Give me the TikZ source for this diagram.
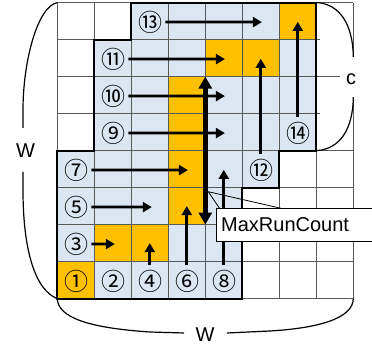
\documentclass[tikz,border=0pt]{standalone}
\usepackage{fontspec}
\setmainfont{Liberation Sans}
\newfontfamily\cjk{Noto Sans CJK JP}
\usetikzlibrary{arrows.meta}
\definecolor{lblue}{HTML}{DCE6F2}
\definecolor{orng}{HTML}{FFC000}
\definecolor{gridc}{HTML}{595959}
\begin{document}
\begin{tikzpicture}[x=1pt,y=-1pt,
  gridline/.style={gridc, line width=0.8pt},
  outline/.style={black, line width=2pt},
  brace/.style={black, line width=1.2pt},
  num/.style={font=\cjk\fontsize{24}{26}\selectfont, inner sep=0pt, xshift=1pt, yshift=-1pt},
  lbl/.style={font=\fontsize{20}{24}\selectfont, inner sep=0pt},
  harr/.style={line width=2.7pt, -{Triangle[length=9pt,width=10pt]}},
  darr/.style={line width=4.5pt, {Triangle[length=12pt,width=13pt]}-{Triangle[length=12pt,width=13pt]}}]
\useasboundingbox (0,0) rectangle (372,352);
\clip (0,0) rectangle (372,352);
\begin{scope}[shift={(57.3pt,-298.6pt)}, x=37pt, y=37pt]
  \fill[lblue] (0,0) -- (5,0) -- (5,3) -- (6,3) -- (6,4) -- (7,4) -- (7,8) -- (2,8) -- (2,7) -- (1,7) -- (1,4) -- (0,4) -- cycle;
  \foreach \c/\r in {0/0,1/1,2/1,3/2,3/3,3/4,3/5,4/6,5/6,6/7}
    \fill[orng] (\c,\r) rectangle ++(1,1);
  \foreach \i in {0,...,8} \draw[gridline] (\i,0) -- (\i,8);
  \foreach \j in {0,1,2,3,4,6,8} \draw[gridline] (0,\j) -- (8,\j);
  \foreach \j in {5,7} \draw[gridline] (0,\j) -- (7.1,\j);
  \draw[outline] (0,0) -- (5,0) -- (5,3) -- (6,3) -- (6,4) -- (7,4) -- (7,8) -- (2,8) -- (2,7) -- (1,7) -- (1,4) -- (0,4) -- cycle;
  % labels
  \node[num] (n1) at (0.5,0.5) {①};
  \node[num] (n2) at (1.5,0.5) {②};
  \node[num] (n4) at (2.5,0.5) {④};
  \node[num] (n6) at (3.5,0.5) {⑥};
  \node[num] (n8) at (4.5,0.5) {⑧};
  \node[num] (n3) at (0.5,1.5) {③};
  \node[num] (n5) at (0.5,2.5) {⑤};
  \node[num] (n7) at (0.5,3.5) {⑦};
  \node[num] (n9) at (1.5,4.5) {⑨};
  \node[num] (n10) at (1.5,5.5) {⑩};
  \node[num] (n11) at (1.5,6.5) {⑪};
  \node[num] (n13) at (2.5,7.5) {⑬};
  \node[num] (n12) at (5.5,3.5) {⑫};
  \node[num] (n14) at (6.5,4.5) {⑭};
  % horizontal arrows
  \draw[harr] ([xshift=14.5pt]n3.center) -- (1.554,1.473);
  \draw[harr] ([xshift=14.5pt]n5.center) -- (2.554,2.473);
  \draw[harr] ([xshift=14.5pt]n7.center) -- (3.53,3.473);
  \draw[harr] ([xshift=14.5pt]n9.center) -- (4.53,4.473);
  \draw[harr] ([xshift=14.5pt]n10.center) -- (4.53,5.473);
  \draw[harr] ([xshift=14.5pt]n11.center) -- (4.53,6.473);
  \draw[harr] ([xshift=14.5pt]n13.center) -- (5.53,7.473);
  % vertical arrows
  \draw[harr] ([xshift=-1pt,yshift=16pt]n4.center) -- (2.5,1.5);
  \draw[harr] ([xshift=-1pt,yshift=16pt]n6.center) -- (3.5,2.5);
  \draw[harr] ([xshift=-1pt,yshift=16pt]n8.center) -- (4.5,3.48);
  \draw[harr] ([xshift=-1pt,yshift=16pt]n12.center) -- (5.5,6.48);
  \draw[harr] ([xshift=-1pt,yshift=16pt]n14.center) -- (6.5,7.48);
  % MaxRunCount span
  \draw[darr] (4,2) -- (4,6);
\end{scope}
% braces
\draw[brace] (57.3,2.6) .. controls (38,6) and (23,60) .. (23,110) -- (23,128);
\draw[brace] (23,172) -- (23,190) .. controls (23,250) and (35,290) .. (57.3,298.6);
\draw[brace] (57.3,298.6) .. controls (58,318) and (90,328) .. (150,332) -- (184,333);
\draw[brace] (227,333) -- (270,331) .. controls (320,328) and (353,318) .. (353.3,298.6);
\draw[brace] (317,2.6) .. controls (340,4) and (353,25) .. (353.3,57);
\draw[brace] (353.3,97) .. controls (353,129) and (340,149) .. (317,150.6);
\fill[white] (340,57) rectangle (366,97);
\node[lbl] (wl) at (25.5,150.5) {W};
\node[lbl] (wb) at (205,334.5) {W};
\node[lbl] (cc) at (351,79) {c};
% callout
\draw[fill=white, line width=0.8pt] (216,208.3) rectangle (380,241.7);
\draw[line width=0.8pt] (219.5,208.3) -- (208.3,191.7) -- (281,208.3);
\node[lbl, anchor=west] (mrc) at (221,225) {MaxRunCount};
\end{tikzpicture}
\end{document}
